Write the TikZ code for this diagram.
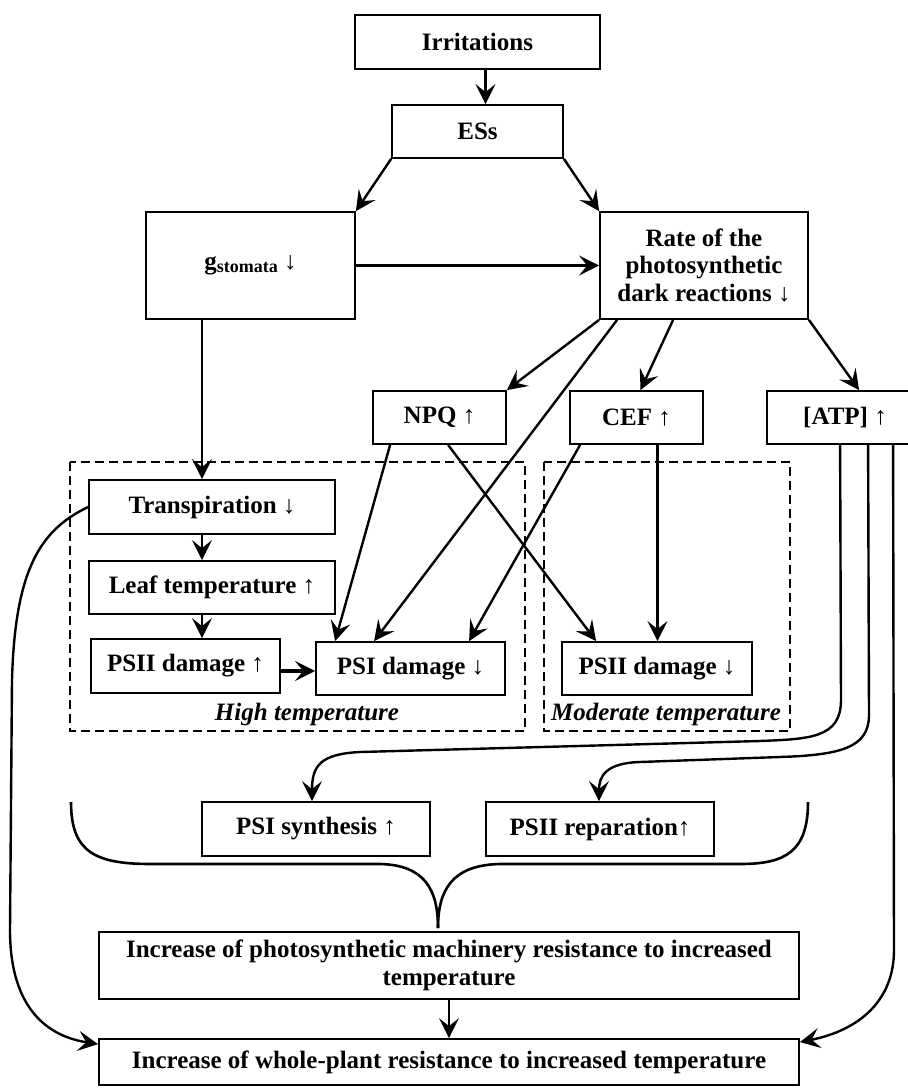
\documentclass[tikz,border=0pt]{standalone}
\usepackage{fontspec}
\setmainfont{Liberation Serif}
\usetikzlibrary{arrows.meta}

\begin{document}
\begin{tikzpicture}[x=0.5pt, y=-0.5pt,
    box/.style={draw, rectangle, line width=0.9pt, inner sep=1pt, align=center,
      font=\fontsize{12.5}{13.75}\selectfont\bfseries},
    zone/.style={draw, line width=0.9pt, dash pattern=on 4.5pt off 2.5pt},
    zonelabel/.style={inner sep=0pt, font=\fontsize{12.5}{13.75}\selectfont\bfseries\itshape},
    arr/.style={line width=1.2pt, -{Stealth[length=10pt, width=10pt, inset=4pt]}}]
    \clip (0,0) rectangle (908,1088);

    \node[box, minimum width=122.5pt, minimum height=27pt] (irr) at (477.5,42) {Irritations};
    \node[box, minimum width=85.5pt, minimum height=26.5pt] (ess) at (477.5,131.5) {ESs};
    \node[box, minimum width=104.5pt, minimum height=53.5pt] (gst) at (250.5,265.5)
      {g\raisebox{-1.5pt}{\fontsize{9}{10}\selectfont stomata} \mdseries↓};
    \node[box, minimum width=104pt, minimum height=53.5pt] (rate) at (704,265.5)
      {Rate of the\\photosynthetic\\dark reactions ↓};
    \node[box, minimum width=66.5pt, minimum height=26.5pt] (npq) at (439.5,417.5) {NPQ ↑};
    \node[box, minimum width=66.5pt, minimum height=26.5pt] (cef) at (636.5,417.5) {CEF ↑};
    \node[box, minimum width=78pt, minimum height=26.5pt] (atp) at (845,417.5) {[ATP] ↑};

    \draw[zone] (70,462) rectangle (525,731);
    \draw[zone] (544,462) rectangle (790,731);
    \node[zonelabel] (hight) at (307,714) {High temperature};
    \node[zonelabel] (modt) at (666,714) {Moderate temperature};

    \node[box, minimum width=123pt, minimum height=27pt] (trans) at (212,507) {Transpiration ↓};
    \node[box, minimum width=123pt, minimum height=26.5pt] (leaf) at (212,587.5) {Leaf temperature ↑};
    \node[box, minimum width=94.5pt, minimum height=27pt] (psiiup) at (185.5,666) {PSII damage ↑};
    \node[box, minimum width=94.5pt, minimum height=26.5pt] (psidn) at (410.5,668.5) {PSI damage ↓};
    \node[box, minimum width=95pt, minimum height=26.5pt] (psiidn) at (657,668.5) {PSII damage ↓};

    \node[box, minimum width=114pt, minimum height=27pt] (psisyn) at (316,829) {PSI synthesis ↑};
    \node[box, minimum width=114pt, minimum height=27pt] (psiirep) at (600,829) {PSII reparation↑};
    \node[box, minimum width=350pt, minimum height=33.5pt] (mach) at (449,965.5)
      {Increase of photosynthetic machinery resistance to increased\\temperature};
    \node[box, minimum width=350pt, minimum height=23pt] (whole) at (449,1062)
      {Increase of whole-plant resistance to increased temperature};

    \draw[arr] ([xshift=4pt]irr.south) -- ([xshift=4pt]ess.north);
    \draw[arr] (ess.south west) -- (gst.north east);
    \draw[arr] (ess.south east) -- (rate.north west);
    \draw[arr] (gst.east) -- (rate.west);
    \draw[arr] ([xshift=-5pt]trans.north |- gst.south) -- ([xshift=-5pt]trans.north);
    \draw[arr] ([xshift=-5pt]trans.south) -- ([xshift=-5pt]leaf.north);
    \draw[arr] ([xshift=-5pt]leaf.south) -- ([xshift=-5pt]leaf.south |- psiiup.north);
    \draw[arr, line width=1.7pt] ([yshift=-2.5pt]psiiup.east) -- ([yshift=-2.5pt]psiiup.east -| psidn.west);

    \draw[arr] (rate.south west) -- (npq.north east);
    \draw[arr] ([xshift=9pt]rate.south west) -- ([xshift=29.5pt]psidn.north west);
    \draw[arr] ([xshift=37pt]rate.south west) -- ([xshift=2pt]cef.north);
    \draw[arr] (rate.south east) -- ([xshift=46.5pt]atp.north west);

    \draw[arr] ([xshift=9pt]npq.south west) -- ([xshift=10pt]psidn.north west);
    \draw[arr] ([xshift=38pt]npq.south west) -- ([xshift=17.5pt]psiidn.north west);
    \draw[arr] ([xshift=5.5pt]cef.south west) -- ([xshift=77pt]psidn.north west);
    \draw[arr] ([xshift=10.5pt]cef.south) -- ([xshift=10.5pt]cef.south |- psiidn.north);

    \draw[arr] ([xshift=37pt]atp.south west) -- (841,700)
      .. controls (841,738) and (810,739) .. (760,741) -- (360,752)
      .. controls (320,754) and (312,766) .. ([xshift=-2pt]psisyn.north);
    \draw[arr] ([xshift=51pt]atp.south west) -- (869,715)
      .. controls (869,748) and (840,755) .. (780,757) -- (640,762)
      .. controls (606,763) and (599,776) .. ([xshift=-0.5pt]psiirep.north);
    \draw[arr] ([xshift=63.5pt]atp.south west) -- (894,950)
      .. controls (894,1000) and (860,1030) .. ([yshift=-2pt]whole.north east);
    \draw[arr] (trans.west) .. controls (40,530) and (15,570) .. (12,680) -- (10,930)
      .. controls (10,1000) and (40,1035) .. ([yshift=-3pt]whole.north west);

    \draw[line width=1.3pt] (71,802) .. controls (71,852) and (95,864) .. (151,864) -- (380,864)
      .. controls (425,865) and (438,890) .. (438,928);
    \draw[line width=1.3pt] (808,802) .. controls (808,852) and (785,864) .. (740,864) -- (500,864)
      .. controls (452,865) and (438,890) .. (438,928);

    \draw[arr] (mach.south) -- (whole.north);
  \end{tikzpicture}
\end{document}
